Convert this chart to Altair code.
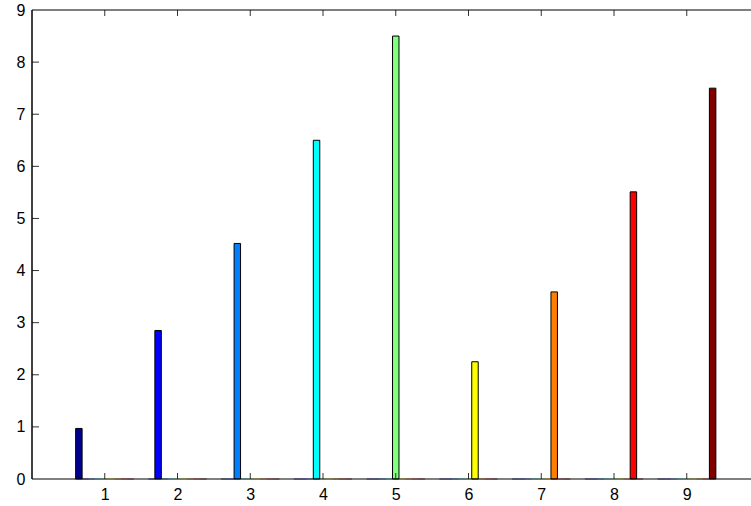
import altair as alt
import pandas as pd

groups = [1, 2, 3, 4, 5, 6, 7, 8, 9]
values = [0.97, 2.85, 4.52, 6.5, 8.5, 2.25, 3.59, 5.51, 7.5]
series_colors = ["#000090", "#0000ff", "#0080ff", "#00ffff", "#80ff80",
                 "#ffff00", "#ff8000", "#ff0000", "#800000"]
x_ticks = [1, 2, 3, 4, 5, 6, 7, 8, 9]
y_ticks = [0, 1, 2, 3, 4, 5, 6, 7, 8, 9]

rows = []
for g, v in zip(groups, values):
    for s in groups:
        rows.append({"group": g, "series": s, "value": v if s == g else 0.0})
df = pd.DataFrame(rows)

n = len(groups)
W, H = 719, 469
FONT = "Liberation Sans"
xscale = alt.Scale(domain=[0, 9.883], nice=False, zero=False)
yscale = alt.Scale(domain=[0, 9], nice=False)
cscale = alt.Scale(domain=groups, range=series_colors)

base = alt.Chart(df).transform_calculate(
    x0=f"datum.group - 0.4 + (datum.series - 1) * 0.8 / {n}",
    x1=f"datum.group - 0.4 + datum.series * 0.8 / {n}",
)

xaxis = alt.Axis(values=x_ticks, labelFontSize=16, labelFont=FONT, labelColor="black",
                 tickSize=0, domain=False, grid=False, title=None, labelPadding=7)
yaxis = alt.Axis(values=y_ticks, format="d", labelFontSize=16, labelFont=FONT,
                 labelColor="black", tickSize=0, domain=False, grid=False, title=None,
                 labelPadding=7)

zero_bars = base.transform_filter("datum.value == 0").mark_rect(
    strokeWidth=0.8, strokeOpacity=0.7, opacity=0.7).encode(
    x=alt.X("x0:Q", scale=xscale, axis=xaxis),
    x2="x1:Q",
    y=alt.Y("value:Q", scale=yscale, axis=yaxis),
    y2=alt.datum(0),
    color=alt.Color("series:O", scale=cscale, legend=None),
    stroke=alt.Stroke("series:O", scale=cscale, legend=None),
)

bars = base.transform_filter("datum.value > 0").mark_rect(stroke="black", strokeWidth=1).encode(
    x=alt.X("x0:Q", scale=xscale, axis=xaxis),
    x2="x1:Q",
    y=alt.Y("value:Q", scale=yscale, axis=yaxis),
    y2=alt.datum(0),
    color=alt.Color("series:O", scale=cscale, legend=None),
)

ytick_df = pd.DataFrame({"t": y_ticks[1:-1]})
xtick_df = pd.DataFrame({"t": x_ticks})

left_ticks = alt.Chart(ytick_df).mark_rule(color="#333333", strokeWidth=1).encode(
    y=alt.Y("t:Q", scale=yscale, axis=yaxis),
    x=alt.value(0), x2=alt.value(7),
)
bottom_ticks = alt.Chart(xtick_df).mark_rule(color="#333333", strokeWidth=1).encode(
    x=alt.X("t:Q", scale=xscale, axis=xaxis),
    y=alt.value(H), y2=alt.value(H - 6),
)
top_ticks = alt.Chart(xtick_df).mark_rule(color="#333333", strokeWidth=1).encode(
    x=alt.X("t:Q", scale=xscale, axis=xaxis),
    y=alt.value(0), y2=alt.value(6),
)

frame_df = pd.DataFrame({"t": [0]})
frame_top = alt.Chart(frame_df).mark_rule(color="black", strokeWidth=1.2).encode(
    x=alt.value(0), x2=alt.value(W), y=alt.value(0))
frame_bottom = alt.Chart(frame_df).mark_rule(color="black", strokeWidth=1.2).encode(
    x=alt.value(0), x2=alt.value(W), y=alt.value(H))
frame_left = alt.Chart(frame_df).mark_rule(color="black", strokeWidth=1.5).encode(
    x=alt.value(0), y=alt.value(0), y2=alt.value(H))

chart = alt.layer(zero_bars, bars, left_ticks, bottom_ticks, top_ticks,
                  frame_top, frame_bottom, frame_left).properties(
    width=W, height=H,
    autosize="none",
    padding={"left": 32, "top": 10, "right": 0, "bottom": 27},
    background="white",
).configure_view(stroke=None)

chart.save("out.html", embed_options={"renderer": "svg", "actions": False})
